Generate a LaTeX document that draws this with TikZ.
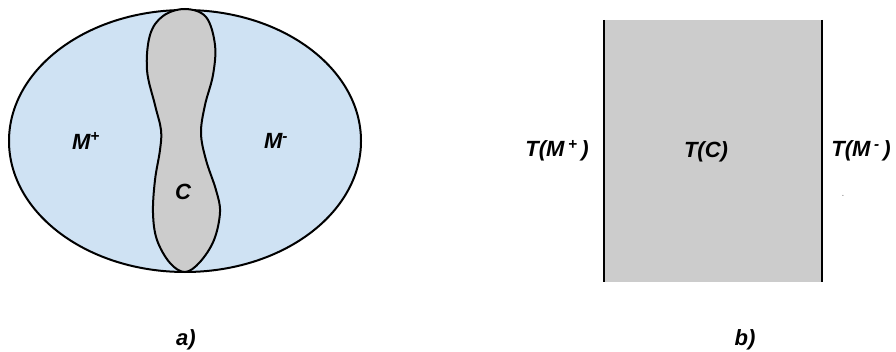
\documentclass[tikz,border=0pt]{standalone}
\usepackage{fontspec}
\setmainfont{Liberation Sans}
\definecolor{lblue}{HTML}{CFE2F3}
\definecolor{lgray}{HTML}{CCCCCC}
\begin{document}
\begin{tikzpicture}[x=1pt,y=-1pt,
  lbl/.style={font=\fontsize{22}{26}\selectfont\bfseries\itshape, inner sep=0pt},
  outline/.style={draw=black, line width=2pt}]
\useasboundingbox (0,0) rectangle (896,352);
\fill[white] (0,0) rectangle (896,352);
% a) ellipse with region C
\filldraw[fill=lblue, outline] (185,141) ellipse [x radius=176pt, y radius=131pt];
\filldraw[fill=lgray, outline] plot[smooth cycle, tension=0.6] coordinates {
  (185,9) (206,17) (215,45) (213,75) (205,105) (201,133) (206,160) (216,190)
  (220,212) (214,240) (200,262) (185,272) (170,263) (157,240) (153,213)
  (155,180) (160,150) (161,130) (155,105) (147,70) (150,35) (163,16)};
\node[lbl] (mp) at (86,141) {M\textsuperscript{+}};
\node[lbl] (mm) at (276,141) {M\textsuperscript{-}};
\node[lbl] (c) at (183,192) {C};
\node[lbl] (a) at (186,340) {a)};
% b) strip
\fill[lgray] (604,20) rectangle (822,282);
\coordinate (l1) at (604,20);
\coordinate (l2) at (604,282);
\coordinate (r1) at (822,20);
\coordinate (r2) at (822,282);
\draw[outline] (l1) -- (l2);
\draw[outline] (r1) -- (r2);
\node[lbl] (tmp) at (557,151) {T(M\,\textsuperscript{+}\,)};
\node[lbl] (tc) at (706,152) {T(C)};
\node[lbl] (tmm) at (861,151) {T(M\,\textsuperscript{-}\,)};
\node[inner sep=0pt, text=gray, font=\fontsize{10}{12}\selectfont] (dot) at (843,196) {.};
\node[lbl] (b) at (745,340) {b)};
\end{tikzpicture}
\end{document}
